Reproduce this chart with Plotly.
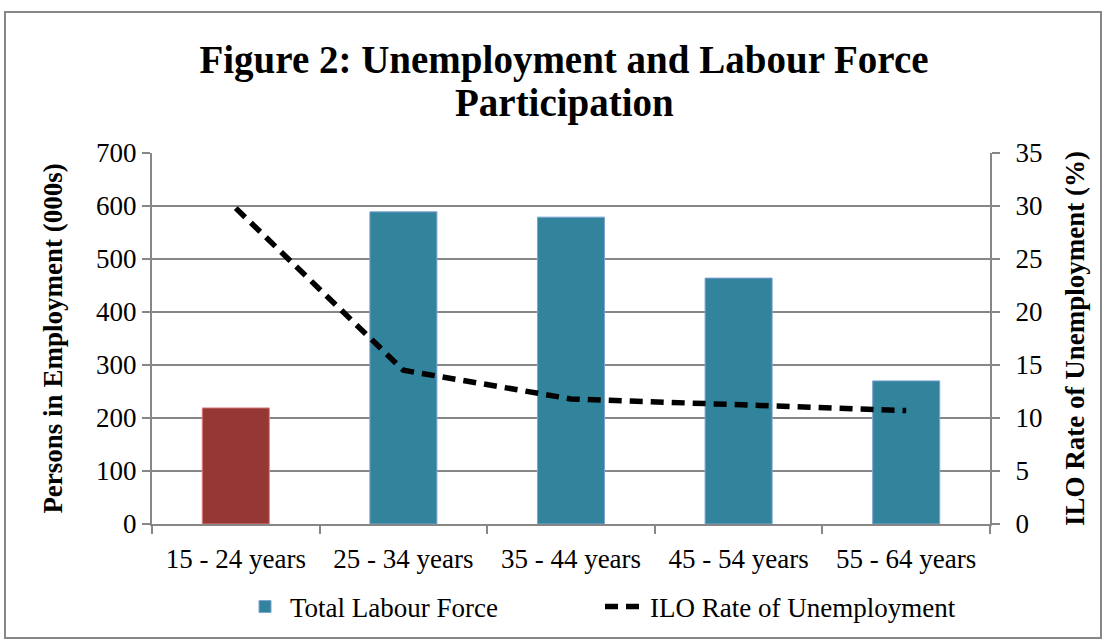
import plotly.graph_objects as go

categories = ["15 - 24 years", "25 - 34 years", "35 - 44 years", "45 - 54 years", "55 - 64 years"]
labour_force = [219, 589, 579, 464, 270]
unemployment_rate = [29.8, 14.5, 11.8, 11.2, 10.7]
bar_colors = ["#953735", "#31849B", "#31849B", "#31849B", "#31849B"]
bar_lines = ["#E0807E", "#7FA3D6", "#7FA3D6", "#7FA3D6", "#7FA3D6"]
legend_bar_color = "#31849B"
title_line1 = "Figure 2: Unemployment and Labour Force"
title_line2 = "Participation"

FONT = "Liberation Serif"
FS = 27

fig = go.Figure()
fig.add_trace(go.Bar(
    x=categories, y=labour_force, name="Total Labour Force",
    marker=dict(color=bar_colors, line=dict(color=bar_lines, width=1)),
    width=0.4, yaxis="y", showlegend=False,
))
# legend entry for the bar series (teal swatch)
fig.add_trace(go.Bar(
    x=[None], y=[None], name="Total Labour Force",
    marker=dict(color=legend_bar_color, line=dict(color="#7FA3D6", width=1)),
    yaxis="y", showlegend=True,
))
fig.add_trace(go.Scatter(
    x=categories, y=unemployment_rate, name="ILO Rate of Unemployment",
    mode="lines", line=dict(color="black", width=5.5, dash="13px,8px"),
    yaxis="y2",
))

W, H = 1103, 639
l, r, t, b = 152, 113, 153, 115
pw, ph = W - l - r, H - t - b

def px(x):
    return (x - l) / pw

def py(y):
    return (H - b - y) / ph

fig.update_layout(
    width=W, height=H,
    margin=dict(l=l, r=r, t=t, b=b, autoexpand=False),
    paper_bgcolor="white", plot_bgcolor="white",
    barmode="overlay",
    font=dict(family=FONT, size=FS, color="black"),
    title=dict(
        text="<b>" + title_line1 + "</b>",
        xref="container", yref="container",
        x=564 / W, xanchor="center", y=1 - 59 / H, yanchor="middle",
        font=dict(family=FONT, size=39, color="black"),
    ),
    annotations=[dict(
        text="<b>" + title_line2 + "</b>", showarrow=False,
        xref="paper", yref="paper", x=px(564), y=py(103),
        xanchor="center", yanchor="middle",
        font=dict(family=FONT, size=39, color="black"),
    )],
    showlegend=True,
    legend=dict(
        orientation="h", x=px(240), xanchor="left", y=py(607), yanchor="middle",
        font=dict(family=FONT, size=FS), itemwidth=40, traceorder="normal",
        entrywidth=305, entrywidthmode="pixels",
    ),
    xaxis=dict(
        type="category", showline=True, linecolor="#878787", linewidth=2,
        ticks="outside", tickson="boundaries", ticklen=8, tickcolor="#878787",
        tickwidth=2, showgrid=False, tickfont=dict(size=FS), ticklabelstandoff=10,
    ),
    yaxis=dict(
        range=[0, 700], dtick=100, showline=True, linecolor="#878787", linewidth=2,
        ticks="outside", ticklen=8, tickcolor="#878787", tickwidth=2,
        gridcolor="#878787", gridwidth=2, zeroline=False,
        title=dict(text="<b>Persons in Employment (000s)</b>", font=dict(size=FS), standoff=26),
        tickfont=dict(size=FS),
    ),
    yaxis2=dict(
        range=[0, 35], dtick=5, overlaying="y", side="right",
        showline=True, linecolor="#878787", linewidth=2,
        ticks="outside", ticklen=8, tickcolor="#878787", tickwidth=2,
        showgrid=False, zeroline=False, ticklabelstandoff=10,
        title=dict(text="<b>ILO Rate of Unemployment (%)</b>", font=dict(size=FS), standoff=24),
        tickfont=dict(size=FS),
    ),
    shapes=[dict(
        type="rect", xref="paper", yref="paper",
        x0=px(5), x1=px(1101), y0=py(638), y1=py(12),
        line=dict(color="#878787", width=2), fillcolor="rgba(0,0,0,0)", layer="below",
    )],
)

fig.write_html("out.html")
